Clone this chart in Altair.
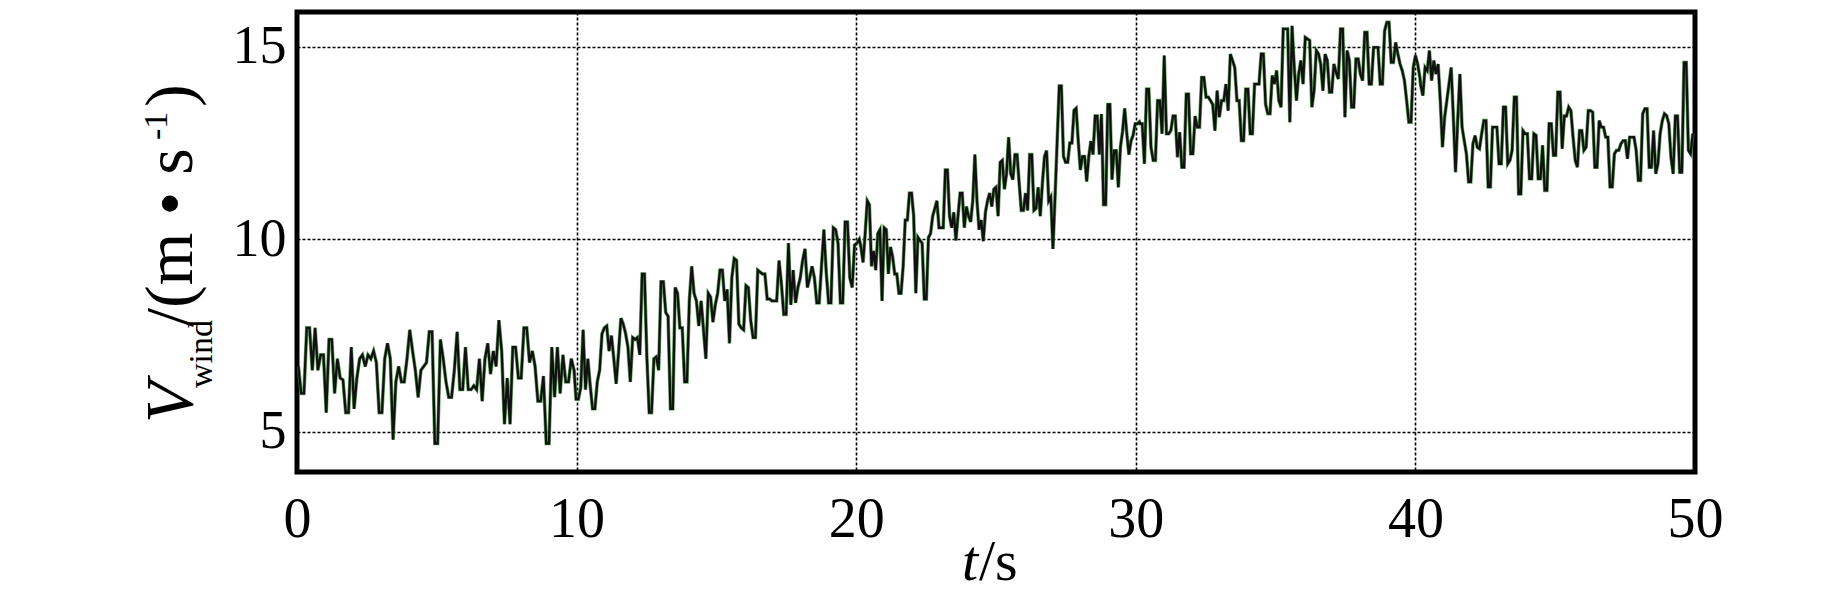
import altair as alt
import numpy as np
import pandas as pd

# wind speed readings (m/s) in five 10-s pieces
seg1 = [6.7, 6.0, 6.0, 7.7, 7.7, 6.6, 7.7, 6.6, 7.0, 7.0,
        5.5, 7.4, 7.4, 6.0, 6.9, 6.4, 6.35, 5.5, 5.5, 7.2,
        5.6, 6.4, 6.9, 7.0, 6.7, 7.0, 6.9, 7.1, 6.8, 5.5,
        5.5, 6.9, 7.3, 6.9, 4.8, 6.3, 6.7, 6.3, 6.3, 6.9,
        7.65, 7.1, 6.6, 5.9, 6.6, 6.7, 6.8, 7.6, 7.6, 4.7,
        4.7, 7.4, 6.9, 6.3, 5.9, 5.9, 6.6, 7.6, 6.1, 6.1,
        7.2, 6.1, 6.1, 6.2, 6.1, 6.9, 5.8, 6.9, 7.3, 6.5,
        7.1, 6.7, 7.9, 7.1, 5.2, 6.4, 5.2, 7.2, 7.2, 6.4,
        6.4, 7.7, 7.7, 6.8, 7.1, 6.7, 5.8, 5.8, 6.45, 4.7,
        4.7, 7.2, 5.9, 7.2, 6.0, 7.0, 6.3, 6.3, 6.9, 6.6]
seg2 = [5.85, 5.85, 6.15, 7.65, 6.1, 6.9, 6.2, 5.6, 5.6, 6.3,
        6.6, 7.55, 7.7, 7.75, 7.1, 7.5, 6.9, 6.25, 7.05, 7.95,
        7.8, 7.55, 7.2, 6.3, 7.45, 7.4, 7.45, 7.0, 9.1, 9.1,
        6.95, 5.5, 5.5, 6.9, 6.95, 6.6, 8.9, 8.9, 8.1, 8.0,
        5.6, 5.6, 8.75, 8.6, 7.7, 7.7, 6.3, 6.3, 8.4, 9.3,
        8.6, 8.4, 7.75, 8.4, 7.65, 6.9, 8.6, 8.5, 7.85, 8.3,
        8.6, 9.2, 9.2, 8.4, 8.7, 7.3, 9.0, 9.5, 9.45, 7.8,
        7.7, 7.65, 8.8, 8.75, 7.9, 7.45, 7.45, 9.2, 9.15, 9.1,
        9.1, 8.45, 8.45, 8.4, 8.4, 8.4, 9.45, 8.85, 8.05, 8.05,
        9.9, 8.3, 9.2, 8.35, 8.75, 9.0, 9.45, 9.75, 8.75, 9.0,
        9.3, 9.0, 8.35, 8.35, 9.3, 10.25, 9.15, 8.35, 8.35, 10.3,
        10.25, 9.9, 8.35, 8.35, 10.45, 10.45, 9.0, 8.75, 9.85, 9.9,
        10.0]
seg3 = [9.8, 9.4, 10.15, 11.0, 10.9, 9.3, 9.7, 9.2, 10.15, 10.25,
        8.4, 10.3, 10.25, 9.1, 9.8, 9.55, 9.1, 9.1, 8.6, 8.6,
        9.3, 10.5, 10.5, 11.2, 11.2, 10.6, 8.6, 10.05, 9.97, 9.9,
        8.45, 8.45, 10.05, 10.15, 10.6, 10.8, 11.0, 10.3, 10.3, 10.3,
        11.8, 11.8, 10.6, 10.3, 10.7, 9.97, 10.6, 11.2, 11.2, 10.3,
        10.85, 10.6, 10.45, 11.0, 12.2, 11.0, 10.25, 10.5, 9.95, 10.7,
        11.0, 11.2, 10.85, 11.3, 11.35, 10.6, 12.0, 12.05, 11.3, 11.7,
        12.65, 11.7, 11.55, 12.2, 12.2, 11.45, 10.75, 10.75, 11.2, 10.75,
        12.2, 12.2, 10.75, 10.8, 11.35, 10.6, 11.45, 12.15, 12.3, 11.0,
        11.1, 9.75, 11.1, 12.55, 13.98, 13.98, 12.15, 12.0, 12.0, 12.5,
        12.5, 13.35, 13.4, 12.55, 11.8, 12.15, 12.15, 11.5, 12.15, 12.55,
        12.2, 13.2, 13.2, 12.2, 13.25, 10.9, 10.9, 13.5, 13.5, 11.55,
        12.3, 12.3, 11.35, 12.4, 12.8, 13.4, 12.75, 12.2, 12.55, 12.7,
        13.0, 13.0, 13.05]
seg4 = [13.0, 13.0, 11.96, 13.9, 13.9, 12.39, 12.05, 12.05, 13.6, 13.6,
        12.74, 14.77, 12.74, 12.74, 12.82, 13.2, 13.2, 12.13, 12.78, 11.87,
        11.87, 13.77, 13.77, 12.22, 12.22, 13.2, 12.91, 12.91, 14.2, 14.2,
        13.69, 13.69, 13.6, 13.5, 12.82, 13.86, 13.17, 13.6, 13.6, 14.03,
        13.34, 14.81, 14.64, 14.46, 13.6, 13.6, 12.56, 12.56, 13.9, 13.9,
        12.74, 12.74, 14.03, 14.03, 14.03, 14.81, 14.81, 13.5, 13.26, 13.26,
        14.25, 14.03, 14.38, 13.6, 13.43, 15.46, 15.46, 15.46, 13.04, 15.54,
        14.46, 13.6, 14.29, 14.64, 14.03, 15.24, 15.2, 15.16, 13.43, 13.86,
        14.9, 14.81, 14.55, 13.86, 14.81, 14.64, 13.82, 13.82, 14.55, 14.33,
        14.16, 15.46, 15.46, 13.17, 14.9, 14.64, 13.43, 13.43, 14.68, 14.68,
        14.29, 14.12, 15.37, 15.37, 14.03, 14.03, 14.98, 14.98, 14.98, 14.03,
        14.03, 15.41, 15.63, 15.63, 14.59, 14.59, 15.11, 14.81, 14.55, 14.38,
        14.12, 13.6, 13.04, 13.04, 14.46, 14.77, 14.55, 14.2]
seg5 = [13.99, 13.73, 14.46, 14.38, 14.9, 14.12, 14.64, 14.29, 14.55, 13.6,
        12.39, 13.17, 13.6, 14.03, 14.46, 13.17, 11.74, 13.08, 14.29, 12.91,
        12.56, 12.22, 11.49, 11.49, 12.48, 12.69, 12.39, 12.35, 12.74, 13.08,
        13.08, 11.36, 11.36, 12.91, 12.91, 12.91, 11.96, 11.96, 13.43, 13.43,
        11.96, 12.05, 12.31, 13.69, 13.69, 11.18, 11.18, 12.82, 12.74, 12.74,
        11.57, 11.57, 12.74, 12.7, 11.57, 11.57, 12.44, 11.27, 11.27, 13.0,
        13.0, 12.18, 12.18, 13.82, 13.82, 12.35, 13.2, 13.2, 13.43, 13.34,
        12.65, 12.05, 11.87, 12.82, 12.82, 12.31, 12.39, 13.34, 13.34, 13.3,
        11.87, 11.87, 13.08, 12.91, 12.91, 12.65, 12.65, 11.36, 11.36, 12.22,
        12.31, 12.31, 12.48, 12.56, 12.56, 12.09, 12.65, 12.65, 12.65, 12.31,
        11.53, 11.53, 13.26, 13.39, 13.39, 11.87, 11.87, 12.82, 11.7, 11.96,
        12.74, 13.08, 13.26, 13.21, 13.0, 12.13, 11.7, 13.2, 13.2, 11.74,
        11.74, 14.59, 14.59, 12.31, 12.22, 12.74]

# time span (s) covered by each piece
seg_start = [0.05, 9.98, 20.17, 30.15, 40.19]
seg_end = [9.91, 20.11, 30.13, 40.16, 49.92]

x_ticks = [0, 10, 20, 30, 40, 50]
y_ticks = [5, 10, 15]

t_all, v_all = [], []
for a, b, vals in zip(seg_start, seg_end, [seg1, seg2, seg3, seg4, seg5]):
    t_all += list(np.linspace(a, b, len(vals)))
    v_all += vals
df = pd.DataFrame({"t": t_all, "v": v_all})

FONT = "Liberation Serif"
W, H = 1398, 460

x_enc = alt.X("t:Q", scale=alt.Scale(domain=[0, 50], nice=False, zero=False),
              axis=alt.Axis(values=x_ticks, title=None, labelFont=FONT, labelFontSize=56,
                            labelColor="black", ticks=False, tickSize=0, labelPadding=20,
                            domain=False, grid=True, gridColor="black", gridDash=[3, 2],
                            gridWidth=1.6, gridOpacity=1, labelFlush=False, format="d"))
y_enc = alt.Y("v:Q", scale=alt.Scale(domain=[3.96, 15.9], nice=False, zero=False),
              axis=alt.Axis(values=y_ticks, title=None, labelFont=FONT, labelFontSize=54,
                            labelColor="black", ticks=False, tickSize=0, labelPadding=11,
                            domain=False, grid=True, gridColor="black", gridDash=[3, 2],
                            gridWidth=1.6, gridOpacity=1, labelFlush=False, format="d"))

under = alt.Chart(df).mark_line(color="#3f8f3a", strokeWidth=3.6, clip=True, opacity=0.8).encode(x=x_enc, y=y_enc)
line = alt.Chart(df).mark_line(color="#111111", strokeWidth=2.3, clip=True).encode(x="t:Q", y="v:Q")

one = pd.DataFrame({"k": [0]})

def txt(s, x, y, size, angle=0, style="normal"):
    return alt.Chart(one).mark_text(text=s, font=FONT, fontSize=size, fontStyle=style,
                                    angle=angle, align="left", baseline="alphabetic",
                                    color="black").encode(x=alt.value(x), y=alt.value(y))

ytitle = [
    txt("V", -105, 411, 68, 270, "italic"),
    txt("wind", -85, 376, 34, 270),
    txt("/(m \u2022 s", -105, 315, 68, 270),
    txt("-1", -130, 128, 34, 270),
    txt(")", -105, 95, 68, 270),
]
xtitle = [
    txt("t", 665, 568, 58, 0, "italic"),
    txt("/s", 682, 568, 58, 0),
]

chart = alt.layer(under, line, *ytitle, *xtitle).properties(
    width=W, height=H,
    autosize=alt.AutoSizeParams(type="none"),
    padding={"left": 289, "top": 4, "right": 120, "bottom": 120},
    background="white",
).configure_view(stroke="black", strokeWidth=5)

chart.save("out.html", embed_options={"renderer": "svg", "actions": False})
